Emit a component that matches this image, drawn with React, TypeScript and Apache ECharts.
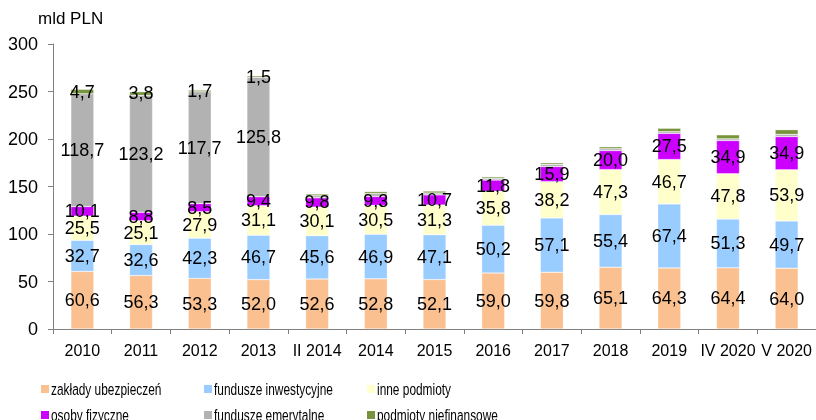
import React, { useEffect, useRef } from "react";
import * as echarts from "echarts";

const categories = ["2010", "2011", "2012", "2013", "II 2014", "2014", "2015", "2016", "2017", "2018", "2019", "IV 2020", "V 2020"];
const zaklady = [60.6, 56.3, 53.3, 52.0, 52.6, 52.8, 52.1, 59.0, 59.8, 65.1, 64.3, 64.4, 64.0];
const inwestycyjne = [32.7, 32.6, 42.3, 46.7, 45.6, 46.9, 47.1, 50.2, 57.1, 55.4, 67.4, 51.3, 49.7];
const inne = [25.5, 25.1, 27.9, 31.1, 30.1, 30.5, 31.3, 35.8, 38.2, 47.3, 46.7, 47.8, 53.9];
const osoby = [10.1, 8.8, 8.5, 9.4, 9.8, 9.3, 10.7, 11.8, 15.9, 20.0, 27.5, 34.9, 34.9];
const emerytalne = [118.7, 123.2, 117.7, 125.8, 2.3, 3.1, 2.0, 2.0, 2.4, 2.0, 1.8, 1.8, 2.4];
const niefinansowe = [4.7, 3.8, 1.7, 1.5, 1.7, 2.0, 2.0, 1.5, 1.6, 2.0, 3.6, 4.2, 4.9];
const labelledCount = 4; // emerytalne & niefinansowe labelled only for first 4 categories
const yTicks = [0, 50, 100, 150, 200, 250, 300];

const seriesDefs = [
  { name: "zakłady ubezpieczeń", data: zaklady, color: "#FAC090", all: true },
  { name: "fundusze inwestycyjne", data: inwestycyjne, color: "#99CCFF", all: true },
  { name: "inne podmioty", data: inne, color: "#FFFFCC", all: true },
  { name: "osoby fizyczne", data: osoby, color: "#CC00FF", all: true },
  { name: "fundusze emerytalne", data: emerytalne, color: "#B2B2B2", all: false },
  { name: "podmioty niefinansowe", data: niefinansowe, color: "#77933C", all: false },
];

const legendCols = [41, 204, 367];
const legendRows = [389, 415];

const fmt = (v: number) => v.toFixed(1).replace(".", ",");

export default function App() {
  const ref = useRef<HTMLDivElement>(null);
  useEffect(() => {
    if (!ref.current) return;
    const chart = echarts.init(ref.current, null, { renderer: "svg" });
    const font = "'Liberation Sans', Arial, sans-serif";
    const legendGraphics: any[] = [];
    seriesDefs.forEach((s, i) => {
      const x = legendCols[i % 3];
      const y = legendRows[Math.floor(i / 3)];
      legendGraphics.push({
        type: "rect",
        shape: { x: x, y: y - 4, width: 8, height: 8 },
        style: { fill: s.color },
        silent: true,
      });
      legendGraphics.push({
        type: "text",
        x: x + 10,
        y: y,
        scaleX: 0.7,
        style: {
          text: s.name,
          font: `17px ${font}`,
          fill: "#000",
          textAlign: "left",
          textVerticalAlign: "middle",
          verticalAlign: "middle",
        },
        silent: true,
      });
    });
    chart.setOption({
      animation: false,
      textStyle: { fontFamily: font },
      grid: { left: 53, right: 0, top: 44, bottom: 91 },
      graphic: [
        {
          type: "text",
          left: 38,
          top: 10,
          style: { text: "mld PLN", font: `17px ${font}`, fill: "#000" },
        },
        ...legendGraphics,
      ],
      xAxis: {
        type: "category",
        data: categories,
        axisLine: { lineStyle: { color: "#808080", width: 1 } },
        axisTick: { show: true, alignWithLabel: false, length: 5, lineStyle: { color: "#808080" } },
        axisLabel: { color: "#000", fontSize: 16, margin: 13, interval: 0 },
      },
      yAxis: {
        type: "value",
        min: yTicks[0],
        max: yTicks[yTicks.length - 1],
        interval: 50,
        splitLine: { show: false },
        axisLine: { show: true, lineStyle: { color: "#808080", width: 1 } },
        axisTick: { show: true, length: 5, lineStyle: { color: "#808080" } },
        axisLabel: { color: "#000", fontSize: 18, margin: 15 },
      },
      series: seriesDefs.map((s) => ({
        name: s.name,
        type: "bar",
        stack: "total",
        barWidth: 23,
        itemStyle: { color: s.color, borderColor: "rgba(255,255,255,0.6)", borderWidth: 0.5 },
        label: {
          show: true,
          position: "inside",
          color: "#000",
          fontSize: 18,
          formatter: (p: any) => fmt(p.value),
        },
        labelLayout: { hideOverlap: false },
        data: s.data.map((v, i) =>
          s.all || i < labelledCount ? { value: v } : { value: v, label: { show: false } }
        ),
      })),
    });
    return () => chart.dispose();
  }, []);
  return (
    <div
      ref={ref}
      style={{ position: "fixed", left: 0, top: 0, width: 816, height: 420 }}
    />
  );
}
